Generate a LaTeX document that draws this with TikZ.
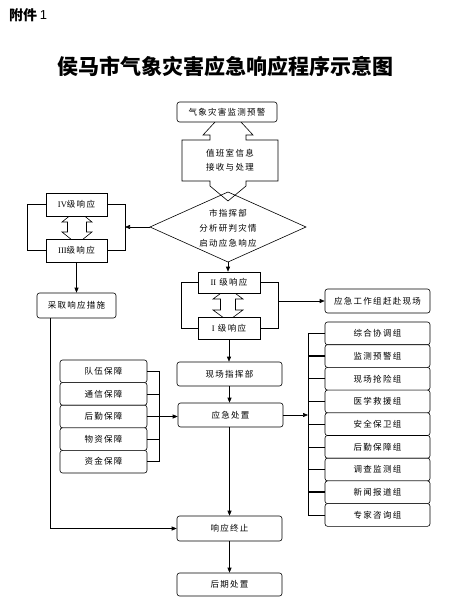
\documentclass[tikz,border=0pt]{standalone}
\usepackage{fontspec}
\setmainfont{Liberation Serif}
\newfontfamily\cjk[LetterSpace=15]{Noto Sans CJK SC}
\newfontfamily\cjkt{Noto Sans CJK SC}
\newfontfamily\lsans{Liberation Sans}
\usetikzlibrary{arrows.meta}
\tikzset{
  lbl/.style={font=\cjk\fontsize{8.5}{10}\selectfont},
  rbx/.style={draw, rounded corners=2.5pt, fill=white, inner sep=0pt, line width=0.6pt, lbl},
  sbx/.style={draw, fill=white, inner sep=0pt, line width=0.6pt, lbl},
  ln/.style={line width=0.6pt},
  arr/.style={ln, -{Triangle[length=5pt,width=4pt]}},
  thk/.style={line width=1.6pt},
}
\begin{document}
\begin{tikzpicture}[x=1pt,y=-1pt]
\useasboundingbox[fill=white] (0,0) rectangle (451,604);

% header and title
\node[anchor=west, inner sep=0pt, font=\cjkt\bfseries\fontsize{14}{14}\selectfont] (att) at (9,15) {附件};
\node[anchor=west, inner sep=0pt, font=\lsans\fontsize{13}{13}\selectfont] (attn) at (att.east) {\,1};
\node[inner sep=0pt, font=\cjkt\bfseries\fontsize{21}{21}\selectfont] (title) at (225,66) {侯马市气象灾害应急响应程序示意图};

% callout shape (double arrow with box)
\draw[ln, fill=white] (182,140)--(210,140)--(210,135)--(203,135)--(228,108)--(253,135)--(246,135)--(246,140)--(278,140)--(278,181)--(246,181)--(246,186)--(228,201)--(210,186)--(210,181)--(182,181)--cycle;
\node[lbl, align=center, inner sep=0pt] (duty) at (230,160.5) {值班室信息\\[4pt]接收与处理};

% top box
\node[rbx, minimum width=100pt, minimum height=20pt] (mon) at (227,112) {气象灾害监测预警};

% diamond
\draw[ln] (150,227) coordinate (dW) -- (228,192) -- (306,227) -- (228,262) coordinate (dS) -- cycle;
\node[lbl, align=center, inner sep=0pt] (cmd) at (228,228) {市指挥部\\[5pt]分析研判灾情\\[5pt]启动应急响应};

% IV / III block arrow
\draw[ln, fill=white] (77,210)--(92,222)--(86.5,222)--(86.5,232)--(92,232)--(77,244)--(62,232)--(67.5,232)--(67.5,222)--(62,222)--cycle;
\node[sbx, minimum width=61pt, minimum height=23pt] (l4) at (76.5,204.5) {{\rmfamily IV}级响应};
\node[sbx, minimum width=61pt, minimum height=23pt] (l3) at (76.5,250.5) {{\rmfamily III}级响应};
\draw[ln] (l4.west) -| (27,250.5) -- (l3.west);
\draw[ln] (l4.east) -| (125,250.5) -- (l3.east);
\coordinate (jl) at (125,227);
\draw[arr] (dW) -- (jl);

\node[rbx, minimum width=79pt, minimum height=25pt] (take) at (76.5,305.5) {采取响应措施};
\draw[arr] (l3.south) -- (take.north);

% II / I block arrow
\draw[ln, fill=white] (228,288)--(243,299)--(235.5,299)--(235.5,310)--(243,310)--(228,321)--(213,310)--(220.5,310)--(220.5,299)--(213,299)--cycle;
\node[sbx, minimum width=62pt, minimum height=21pt] (l2) at (229,282.5) {{\rmfamily II} 级响应};
\node[sbx, minimum width=62pt, minimum height=22pt] (l1) at (229,328) {{\rmfamily I} 级响应};
\draw[arr] (dS) -- (dS |- l2.north);
\draw[ln] (l2.west) -| (181,328) -- (l1.west);
\draw[ln] (l2.east) -| (278,328) -- (l1.east);

\node[rbx, minimum width=105pt, minimum height=24pt] (team) at (377.5,301) {应急工作组赶赴现场};
\coordinate (jr) at (278,301);
\draw[arr] (jr) -- (team.west);

% main column
\node[rbx, minimum width=105pt, minimum height=24pt] (site) at (229.5,374) {现场指挥部};
\node[rbx, minimum width=105pt, minimum height=24pt] (disp) at (230.5,415) {应急处置};
\node[rbx, minimum width=105pt, minimum height=25pt] (end) at (229.5,528.5) {响应终止};
\node[rbx, minimum width=105pt, minimum height=23pt] (post) at (229.5,584.5) {后期处置};
\draw[arr] (l1.south) -- (l1.south |- site.north);
\draw[arr] (site.south) -- (site.south |- disp.north);
\draw[arr] (229.5,427) -- (end.north);
\draw[arr] (end.south) -- (post.north);
\coordinate (tk) at (50,318);
\draw[arr] (tk) |- (end.west);

% left support boxes
\foreach \t [count=\i] in {队伍保障,通信保障,后勤保障,物资保障,资金保障}{
  \node[rbx, minimum width=87pt, minimum height=22.6pt] (s\i) at (103.5,{360+11.3+(\i-1)*22.6}) {\t};
  \draw[ln] (s\i.east) -- (159,{360+11.3+(\i-1)*22.6});
}
\draw[ln] (159,371.3) -- (159,461.7);
\coordinate (jsl) at (159,416.5);
\draw[arr] (jsl) -- (disp.west |- jsl);

% right groups
\foreach \t [count=\i] in {综合协调组,监测预警组,现场抢险组,医学救援组,安全保卫组,后勤保障组,调查监测组,新闻报道组,专家咨询组}{
  \node[rbx, minimum width=105pt, minimum height=22.7pt] (g\i) at (377.5,{322+11.35+(\i-1)*22.7}) {\t};
  \draw[ln] (308,{322+11.35+(\i-1)*22.7}) -- (g\i.west);
}
\draw[thk] (308,356.05) -- (325,356.05);
\draw[thk] (308,492.25) -- (325,492.25);
\draw[ln] (308,333.35) -- (308,514.95);
\coordinate (jg) at (308,415);
\draw[arr] (disp.east |- jg) -- (jg);
\end{tikzpicture}
\end{document}
